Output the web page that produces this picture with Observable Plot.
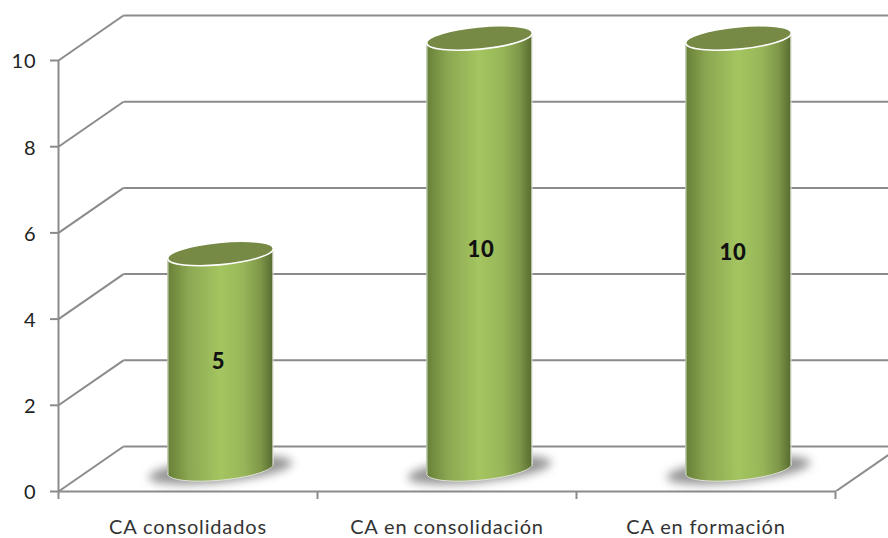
<!DOCTYPE html>
<html>
<head>
<meta charset="utf-8">
<script src="https://cdn.jsdelivr.net/npm/d3@7"></script>
<script src="https://cdn.jsdelivr.net/npm/@observablehq/plot@0.6"></script>
<style>
html,body{margin:0;padding:0;background:#fff;overflow:hidden}
svg{display:block;overflow:hidden;letter-spacing:0.85px}
</style>
</head>
<body>
<div id="chart"></div>
<script>
const categories = ["CA consolidados", "CA en consolidación", "CA en formación"];
const values = [5, 10, 10];
const yTicks = [0, 2, 4, 6, 8, 10];
const xBounds = [0, 1, 2, 3];

// Depth of the 3D box and cylinder shape, in scale units
const depthX = 0.251, depthY = 1.044;
const halfWidth = 0.203, tiltY = 0.104;
const grid = "#8b8b8b";

const rows = categories.map((category, i) => ({
  category,
  value: values[i],
  cx: i + 0.5 + depthX / 2,
  top: values[i] + depthY / 2,
  base: depthY / 2
}));
const bodyRows = rows.flatMap(r => [-1, 1].map(s => ({
  category: r.category,
  x: r.cx + s * halfWidth,
  y1: r.top + s * tiltY,
  y2: r.base + s * tiltY
})));

// Tilted-ellipse symbol for the Plot.dot mark
function ellipse(ratio, degrees) {
  return {
    draw(ctx, size) {
      const a = Math.sqrt(size / Math.PI), b = a * ratio, k = 0.5522847;
      const t = degrees * Math.PI / 180, c = Math.cos(t), s = Math.sin(t);
      const X = (u, v) => u * c - v * s, Y = (u, v) => u * s + v * c;
      const pts = [
        [a, k * b, k * a, b, 0, b],
        [-k * a, b, -a, k * b, -a, 0],
        [-a, -k * b, -k * a, -b, 0, -b],
        [k * a, -b, a, -k * b, a, 0]
      ];
      ctx.moveTo(X(a, 0), Y(a, 0));
      for (const p of pts) {
        ctx.bezierCurveTo(X(p[0], p[1]), Y(p[0], p[1]), X(p[2], p[3]), Y(p[2], p[3]), X(p[4], p[5]), Y(p[4], p[5]));
      }
      ctx.closePath();
    }
  };
}

function gradients() {
  const defs = d3.create("svg:defs");
  const g = defs.append("linearGradient").attr("id", "cyl").attr("x1", 0).attr("x2", 1).attr("y1", 0).attr("y2", 0);
  [[0, "#66803a"], [0.05, "#70893d"], [0.2, "#8ca752"], [0.5, "#a4c560"], [0.72, "#98b659"], [0.88, "#7f9849"], [1, "#586c31"]]
    .forEach(([o, c]) => g.append("stop").attr("offset", o).attr("stop-color", c));
  return defs.node();
}

const labelNudges = [[-2, 0.5], [1.5, -4], [-5.5, -1]];

const chart = Plot.plot({
  width: 888,
  height: 538,
  marginLeft: 58,
  marginRight: 0,
  marginTop: 0,
  marginBottom: 47,
  style: {background: "#fff", fontFamily: "Lato, sans-serif"},
  x: {type: "linear", domain: [0, 3], range: [58, 835]},
  y: {type: "linear", domain: [0, 10], range: [491, 60]},
  marks: [
    gradients,
    // side wall diagonals
    Plot.link(yTicks, {x1: 0, y1: d => d, x2: depthX, y2: d => d + depthY, stroke: grid, strokeWidth: 2}),
    // back wall gridlines
    Plot.link(yTicks, {x1: depthX, y1: d => d + depthY, x2: 3 + depthX, y2: d => d + depthY, stroke: grid, strokeWidth: 2, clip: "frame"}),
    // floor right edge
    Plot.link([0], {x1: 3, y1: 0, x2: 3 + depthX, y2: depthY, stroke: grid, strokeWidth: 2, clip: "frame"}),
    // front axes
    Plot.ruleY([0], {x1: 0, x2: 3, stroke: grid, strokeWidth: 2}),
    Plot.ruleX([0], {y1: 0, y2: 10, stroke: grid, strokeWidth: 2}),
    Plot.axisX(xBounds, {tickSize: 8, tickFormat: () => "", stroke: grid, strokeWidth: 2, label: null}),
    Plot.axisX(categories.map((_, i) => i + 0.5), {
      tickSize: 0, tickPadding: 28, fontSize: 20, fill: "#333",
      tickFormat: d => categories[Math.floor(d)], label: null
    }),
    Plot.axisY(yTicks, {tickSize: 8, tickFormat: () => "", stroke: grid, strokeWidth: 2, label: null}),
    Plot.axisY(yTicks, {
      tickSize: 0, tickPadding: 22, fontSize: 20, fill: "#222", dy: 1.5,
      tickFormat: d => d, label: null
    }),
    // floor shadows
    Plot.dot(rows, {
      x: "cx", y: "base", r: 72, symbol: ellipse(0.17, -6), fill: "#666", fillOpacity: 0.7,
      dy: 1, imageFilter: "blur(5px)"
    }),
    // cylinder bottom
    Plot.dot(rows, {x: "cx", y: "base", r: 53, symbol: ellipse(0.21, -5.5), fill: "url(#cyl)", stroke: "#dfe2d6", strokeWidth: 1}),
    // cylinder body
    Plot.areaY(bodyRows, {x: "x", y1: "y1", y2: "y2", z: "category", fill: "url(#cyl)"}),
    Plot.link(bodyRows, {x1: "x", x2: "x", y1: "y1", y2: "y2", stroke: "#dfe2d6", strokeWidth: 1}),
    // cylinder top
    Plot.dot(rows, {x: "cx", y: "top", r: 53, symbol: ellipse(0.21, -5.5), fill: "#768a45", stroke: "#fff", strokeWidth: 1.6}),
    // value labels
    ...rows.map((r, i) => Plot.text([r], {
      x: "cx", y: d => (d.top + d.base) / 2, text: d => String(d.value),
      dx: labelNudges[i][0], dy: labelNudges[i][1],
      fontSize: 22, fontWeight: 900, fill: "#111"
    }))
  ]
});
document.getElementById("chart").append(chart);
</script>
</body>
</html>
